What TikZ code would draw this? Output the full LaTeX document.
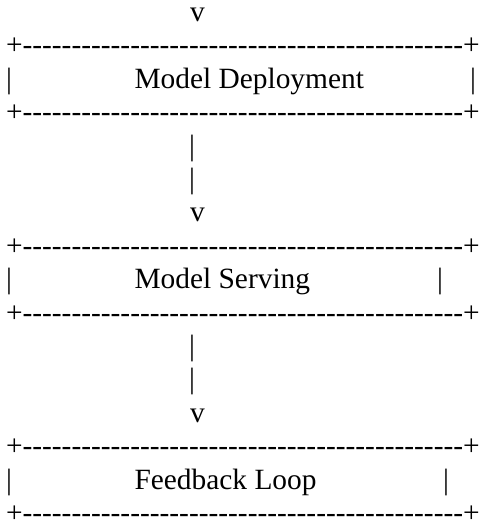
\documentclass[tikz,border=0pt]{standalone}
\usepackage{fontspec}
\setmainfont{Liberation Serif}
\newcommand\dashrep[1]{\count255=0 \loop-{}\advance\count255 by 1 \ifnum\count255<#1\repeat}
\newcommand\asciirule{+\dashrep{45}+}

\begin{document}
\begin{tikzpicture}
[x=1pt,y=1pt,%
  asciitext/.style={anchor=base west,inner sep=0pt,outer sep=0pt,%
    font=\fontsize{29.4}{34}\selectfont}]
\useasboundingbox (0,0) rectangle (483,530);
%% rules of the boxes
\foreach \nodename/\row in {top1/1, bot1/3, top2/7, bot2/9, top3/13, bot3/15} {
  \node (\nodename) at (6,{508.5-33.4*\row}) [asciitext] {\asciirule};
}
%% sides of the boxes
\foreach \nodename/\x/\row in {lbar1/6/2, rbar1/470/2, lbar2/6/8, rbar2/437/8, lbar3/6/14, rbar3/443/14} {
  \node (\nodename) at (\x,{508.5-33.4*\row}) [asciitext] {|};
}
%% box labels
\foreach \nodename/\row/\label in {deploy/2/Model Deployment, serve/8/Model Serving, feedback/14/Feedback Loop} {
  \node (\nodename) at (134.5,{508.5-33.4*\row}) [asciitext] {\label};
}
%% stems and arrow heads
\foreach \nodename/\row in {stem1a/4, stem1b/5, stem2a/10, stem2b/11} {
  \node (\nodename) at (189,{508.5-33.4*\row}) [asciitext] {|};
}
\foreach \nodename/\row in {head0/0, head1/6, head2/12} {
  \node (\nodename) at (190,{508.5-33.4*\row}) [asciitext] {v};
}
\end{tikzpicture}
\end{document}
